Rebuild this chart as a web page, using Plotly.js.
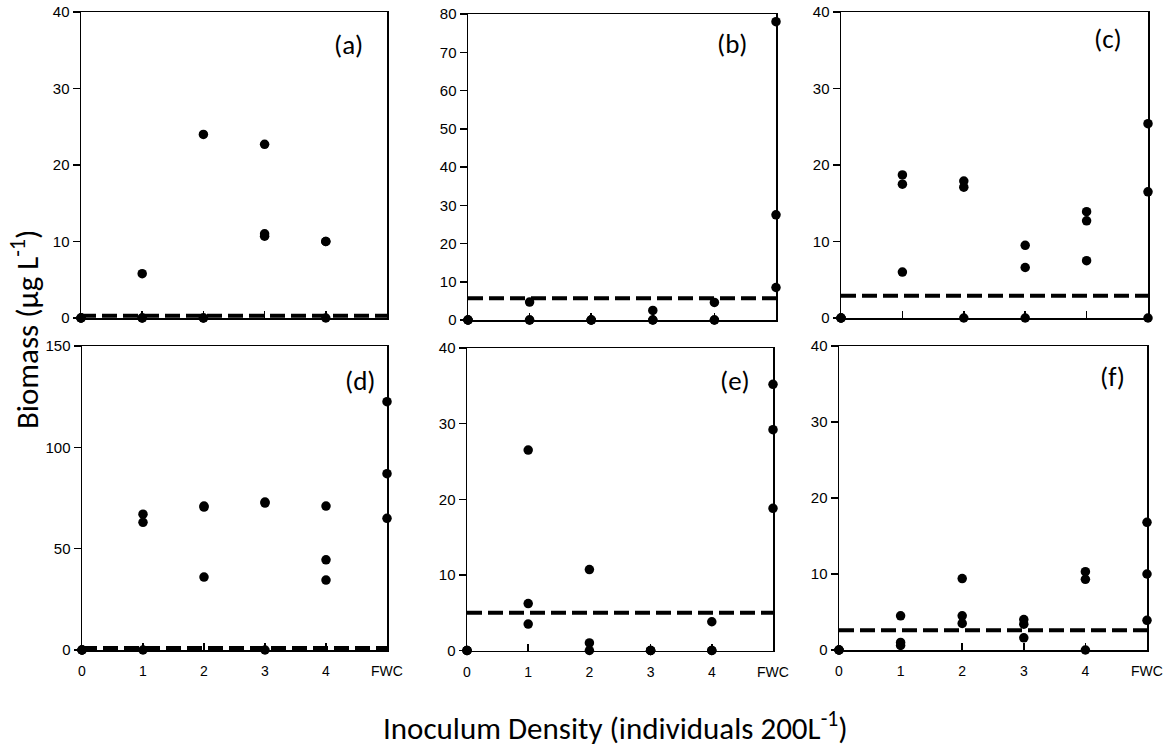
<!DOCTYPE html>
<html>
<head>
<meta charset="utf-8">
<script src="https://cdn.plot.ly/plotly-3.0.1.min.js"></script>
<style>html,body{margin:0;padding:0;background:#fff;}#chart{width:1173px;height:746px;}</style>
</head>
<body>
<div id="chart"></div>
<script>
// ---- Data ----
const xLabels = ['0', '1', '2', '3', '4', 'FWC'];
const panelNames = ['(a)', '(b)', '(c)', '(d)', '(e)', '(f)'];
const yMax = [40, 80, 40, 150, 40, 40];
const yStep = [10, 10, 10, 50, 10, 10];
const thresholds = [0.3, 5.7, 2.9, 1.0, 5.0, 2.6];

const xA = [0,0,0, 1,1,1, 2,2,2, 3,3,3, 4,4,4];
const yA = [0,0,0, 5.8,0,0, 24,0,0, 22.7,11,10.7, 10,10,0];

const xB = [0,0,0, 1,1,1, 2,2,2, 3,3,3, 4,4,4, 5,5,5];
const yB = [0,0,0, 4.7,0,0, 0,0,0, 2.5,0,0, 4.6,0,0, 78,27.5,8.5];

const xC = [0,0,0, 1,1,1, 2,2,2, 3,3,3, 4,4,4, 5,5,5];
const yC = [0,0,0, 18.7,17.5,6.0, 17.9,17.1,0, 9.5,6.6,0, 13.9,12.7,7.5, 25.4,16.5,0];

const xD = [0,0,0, 1,1,1, 2,2,2, 3,3,3, 4,4,4, 5,5,5];
const yD = [0,0,0, 67,63,0, 71,70.5,36, 73,72.5,0, 71,44.5,34.5, 122.5,87,65];

const xE = [0,0,0, 1,1,1, 2,2,2, 3,3,3, 4,4,4, 5,5,5];
const yE = [0,0,0, 26.5,6.2,3.5, 10.7,1.0,0, 0,0,0, 3.8,0,0, 35.2,29.2,18.8];

const xF = [0,0,0, 1,1,1, 2,2,2, 3,3,3, 4,4,4, 5,5,5];
const yF = [0,0,0, 4.5,1.0,0.6, 9.4,4.5,3.5, 4.0,3.4,1.6, 10.3,9.3,0, 16.8,10,3.9];

const panelX = [xA, xB, xC, xD, xE, xF];
const panelY = [yA, yB, yC, yD, yE, yF];

// ---- Layout geometry (pixels) ----
const W = 1173, H = 746;
const boxes = [
  [81, 387, 12, 318], [468, 776, 14, 320], [841, 1148, 12, 318],
  [82, 387, 346, 650], [467, 773, 348, 650.5], [839, 1147, 346, 650]
];
const labelPos = [[348, 44], [733, 43], [1108, 38], [360, 380], [735, 380], [1112, 376]];

const tickFont = {family: 'Liberation Sans, Arial, sans-serif', size: 15, color: '#000'};
const xTickFont = {family: 'Liberation Sans, Arial, sans-serif', size: 14, color: '#000'};
const textFont = 'Carlito, Lato, sans-serif';

const traces = [];
const layout = {
  width: W, height: H,
  margin: {l: 0, r: 0, t: 0, b: 0},
  paper_bgcolor: '#fff', plot_bgcolor: '#fff',
  showlegend: false,
  annotations: []
};

const xTickVals = xLabels.map((_, i) => i);

for (let i = 0; i < 6; i++) {
  const s = i === 0 ? '' : String(i + 1);
  const [x0, x1, y0, y1] = boxes[i];
  traces.push({
    type: 'scatter', mode: 'lines',
    x: [xTickVals[0], xTickVals[xTickVals.length - 1]],
    y: [thresholds[i], thresholds[i]],
    xaxis: 'x' + s, yaxis: 'y' + s,
    line: {color: '#000', width: 4, dash: '15px,6px'},
    cliponaxis: false, hoverinfo: 'skip'
  });
  traces.push({
    type: 'scatter', mode: 'markers',
    x: panelX[i], y: panelY[i],
    xaxis: 'x' + s, yaxis: 'y' + s,
    marker: {color: '#000', size: 9.5},
    cliponaxis: false
  });
  layout['xaxis' + s] = {
    domain: [x0 / W, x1 / W], anchor: 'y' + s,
    range: [0, 5], showgrid: false, zeroline: false,
    showline: true, linecolor: '#000', linewidth: 1.5, mirror: true,
    ticks: 'inside', ticklen: 7, tickwidth: 1.5, tickcolor: '#000',
    tickvals: xTickVals, ticktext: xLabels,
    showticklabels: i >= 3, tickfont: xTickFont, ticklabelstandoff: 8,
    fixedrange: true
  };
  layout['yaxis' + s] = {
    domain: [1 - y1 / H, 1 - y0 / H], anchor: 'x' + s,
    range: [0, yMax[i]], dtick: yStep[i], tick0: 0,
    showgrid: false, zeroline: false,
    showline: true, linecolor: '#000', linewidth: 1.5, mirror: true,
    ticks: 'outside', ticklen: 7, tickwidth: 1.5, tickcolor: '#000',
    tickfont: tickFont, fixedrange: true
  };
  layout.annotations.push({
    text: panelNames[i], xref: 'paper', yref: 'paper',
    x: labelPos[i][0] / W, y: 1 - labelPos[i][1] / H,
    xanchor: 'center', yanchor: 'middle', showarrow: false,
    font: {family: textFont, size: 27, color: '#000'}
  });
}

layout.annotations.push({
  text: 'Biomass (µg L<sup>-1</sup>)', xref: 'paper', yref: 'paper',
  x: 25 / W, y: 1 - 330 / H, textangle: -90,
  xanchor: 'center', yanchor: 'middle', showarrow: false,
  font: {family: textFont, size: 31, color: '#000'}
});
layout.annotations.push({
  text: 'Inoculum Density (individuals 200L<sup>-1</sup>)', xref: 'paper', yref: 'paper',
  x: 615 / W, y: 1 - 726 / H,
  xanchor: 'center', yanchor: 'middle', showarrow: false,
  font: {family: textFont, size: 31, color: '#000'}
});

Plotly.newPlot('chart', traces, layout, {displayModeBar: false, staticPlot: true});
</script>
</body>
</html>
